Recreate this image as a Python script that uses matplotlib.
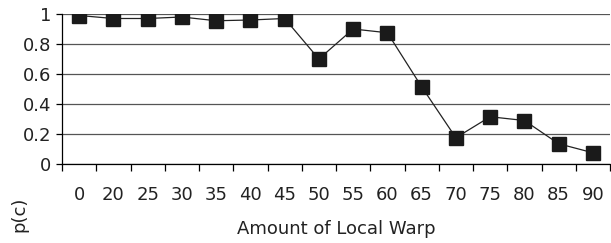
import matplotlib.pyplot as plt
import numpy as np

warp = ["0", "20", "25", "30", "35", "40", "45", "50", "55", "60",
        "65", "70", "75", "80", "85", "90"]
pc = [0.99, 0.97, 0.97, 0.98, 0.955, 0.96, 0.97, 0.70, 0.90, 0.875,
      0.515, 0.175, 0.315, 0.29, 0.135, 0.075]
err = [0.01, 0.015, 0.015, 0.012, 0.015, 0.015, 0.012, 0.02, 0.015, 0.02,
       0.03, 0.02, 0.025, 0.035, 0.015, 0.015]

fs = 13
fig = plt.figure(figsize=(6.11, 2.43), dpi=100)
ax = fig.add_axes([62 / 611, 1 - 164 / 243, 548 / 611, 150 / 243])

x = np.arange(len(warp))
ax.errorbar(x, pc, yerr=err, color="#222222", lw=0.9, marker="s",
            markersize=10, mfc="#1a1a1a", mec="#1a1a1a", ecolor="#222222",
            elinewidth=1, capsize=4, zorder=3)

ax.set_xlim(-0.5, len(warp) - 0.5)
ax.set_ylim(0, 1)
ax.set_yticks([0, 0.2, 0.4, 0.6, 0.8, 1])
ax.set_yticklabels(["0", "0.2", "0.4", "0.6", "0.8", "1"])
ax.yaxis.grid(True, color="#555555", lw=0.9)
ax.set_axisbelow(True)

ax.set_xticks(x)
ax.set_xticklabels(warp)
ax.set_xticks(np.arange(-0.5, len(warp)), minor=True)
ax.tick_params(axis="x", which="major", length=0, pad=16, labelsize=fs,
               labelcolor="#222222")
ax.tick_params(axis="x", which="minor", length=5, direction="out", width=0.9)
ax.tick_params(axis="y", length=4, width=0.9, labelsize=fs, pad=4,
               labelcolor="#222222")

for s in ["top", "right"]:
    ax.spines[s].set_visible(False)
ax.spines["left"].set_linewidth(0.9)
ax.spines["bottom"].set_linewidth(0.9)

ax.set_xlabel("Amount of Local Warp", fontsize=fs, labelpad=11, color="#222222")
fig.text(19 / 611, 1 - 214 / 243, "p(c)", rotation=90, fontsize=fs,
         ha="center", va="center", color="#222222")

fig.savefig("out.png", dpi=100)
